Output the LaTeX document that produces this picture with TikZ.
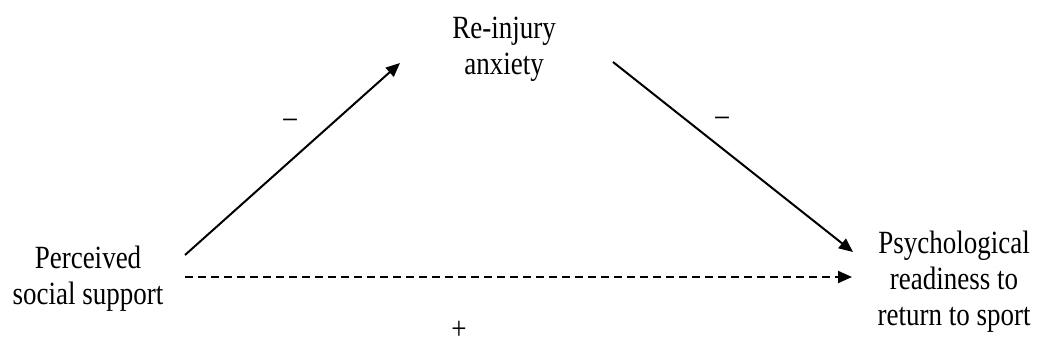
\documentclass[tikz,border=0pt]{standalone}
\usepackage{fontspec}
\setmainfont{Liberation Serif}
\usetikzlibrary{arrows.meta}
\newcommand{\tallt}[1]{\scalebox{1}[1.2]{\fontsize{27}{30}\selectfont\begin{tabular}[t]{@{}c@{}}#1\end{tabular}}}
\begin{document}
\begin{tikzpicture}[x=1pt,y=-1pt,
  lbl/.style={inner sep=0pt,anchor=base},
  sgn/.style={inner sep=0pt},
  arr/.style={line width=2pt,-{Triangle[length=14pt,width=12pt]}}]
\useasboundingbox (0,0) rectangle (1039,349);
\node[lbl] (ria) at (504,38) {\tallt{Re-injury\\anxiety}};
\node[lbl] (pss) at (88,268) {\tallt{Perceived\\social support}};
\node[lbl] (prs) at (954,253) {\tallt{Psychological\\readiness to\\return to sport}};
\coordinate (a1s) at (185,255);
\coordinate (a1e) at (400,63);
\coordinate (a2s) at (613,62);
\coordinate (a2e) at (853,252);
\coordinate (d1s) at (185,277);
\coordinate (d1e) at (852,277);
\draw[arr] (a1s) -- (a1e);
\draw[arr] (a2s) -- (a2e);
\draw[arr,dash pattern=on 8pt off 5pt] (d1s) -- (d1e);
\node[sgn] (m1) at (290,123) {\scalebox{1}[1.2]{\fontsize{27}{30}\selectfont --}};
\node[sgn] (m2) at (722,121) {\scalebox{1}[1.2]{\fontsize{27}{30}\selectfont --}};
\node[sgn] (p1) at (459,330) {\scalebox{1}[1.2]{\fontsize{27}{30}\selectfont +}};
\end{tikzpicture}
\end{document}
